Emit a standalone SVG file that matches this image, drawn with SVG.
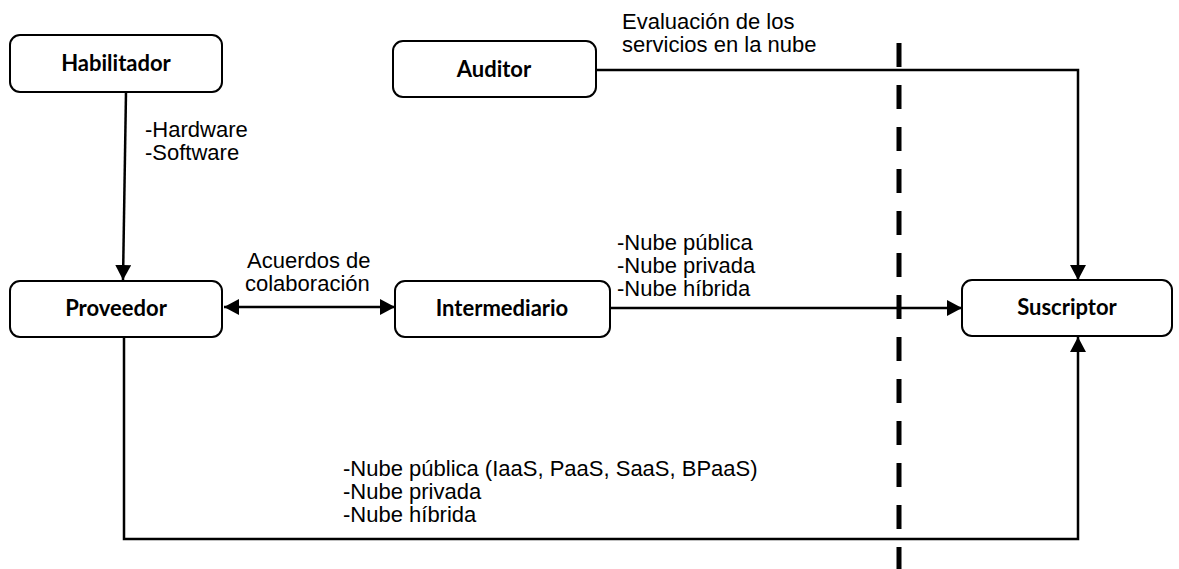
<svg xmlns="http://www.w3.org/2000/svg" width="1179" height="569" viewBox="0 0 1179 569">
<style>
.box{fill:#fff;stroke:#000;stroke-width:2}
.lbl{font-family:Lato,"Liberation Sans",sans-serif;font-weight:bold;font-size:22px;fill:#000;text-anchor:middle}
.txt{font-family:"Liberation Sans",Arial,sans-serif;font-size:22px;fill:#000}
.ln{fill:none;stroke:#000;stroke-width:2.5}
</style>
<defs>
<marker id="ah" viewBox="0 0 15 16" refX="15" refY="8" markerWidth="15" markerHeight="16" markerUnits="userSpaceOnUse" orient="auto-start-reverse">
<path d="M0,0 L15,8 L0,16 Z" fill="#000"/>
</marker>
</defs>
<rect width="1179" height="569" fill="#fff"/>
<line x1="899" y1="43" x2="899" y2="569" stroke="#000" stroke-width="5" stroke-dasharray="24 18"/>
<g id="connectors">
<line class="ln" x1="126" y1="92" x2="123" y2="280" marker-end="url(#ah)"/>
<polyline class="ln" points="596,70 1078,70 1078,280" marker-end="url(#ah)"/>
<line class="ln" x1="224" y1="307" x2="395" y2="307" marker-start="url(#ah)" marker-end="url(#ah)"/>
<line class="ln" x1="610" y1="308" x2="962" y2="308" marker-end="url(#ah)"/>
<polyline class="ln" points="124,337 124,539 1078,539 1078,337" marker-end="url(#ah)"/>
</g>
<g id="habilitador"><rect class="box" x="10" y="35" width="212" height="57" rx="10"/><text class="lbl" x="116" y="71">Habilitador</text></g>
<g id="auditor"><rect class="box" x="393" y="41" width="203" height="56" rx="10"/><text class="lbl" x="494" y="77">Auditor</text></g>
<g id="proveedor"><rect class="box" x="10" y="281" width="212" height="56" rx="10"/><text class="lbl" x="116" y="316">Proveedor</text></g>
<g id="intermediario"><rect class="box" x="395" y="281" width="215" height="56" rx="10"/><text class="lbl" x="502" y="316">Intermediario</text></g>
<g id="suscriptor"><rect class="box" x="962" y="280" width="210" height="56" rx="10"/><text class="lbl" x="1067" y="315">Suscriptor</text></g>
<g id="labels">
<text class="txt" x="622" y="29">Evaluación de los</text>
<text class="txt" x="622" y="52">servicios en la nube</text>
<text class="txt" x="145" y="137">-Hardware</text>
<text class="txt" x="145" y="160">-Software</text>
<text class="txt" x="247" y="268">Acuerdos de</text>
<text class="txt" x="245" y="291">colaboración</text>
<text class="txt" x="617" y="250">-Nube pública</text>
<text class="txt" x="617" y="273">-Nube privada</text>
<text class="txt" x="617" y="296">-Nube híbrida</text>
<text class="txt" x="343" y="476">-Nube pública (IaaS, PaaS, SaaS, BPaaS)</text>
<text class="txt" x="343" y="499">-Nube privada</text>
<text class="txt" x="343" y="522">-Nube híbrida</text>
</g>
</svg>
